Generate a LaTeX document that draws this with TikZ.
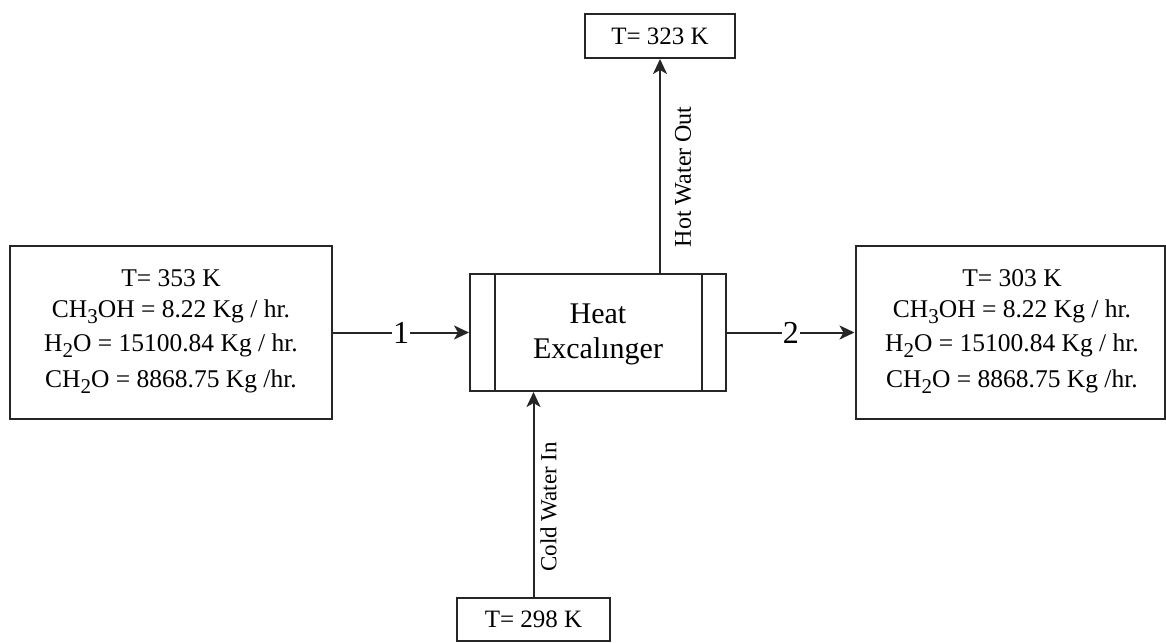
\documentclass[tikz,border=0pt]{standalone}
\usepackage{fontspec}
\setmainfont{Liberation Serif}
\usetikzlibrary{arrows.meta,calc}
\newcommand{\lowsub}[1]{\raisebox{-0.22em}{\fontsize{21}{21}\selectfont #1}}
\tikzset{
  box/.style={draw=black!85, line width=2pt, rectangle, inner sep=0pt},
  boxtext/.style={align=center, font=\fontsize{25.5}{31}\selectfont, inner sep=0pt},
  flow/.style={draw=black!85, line width=2pt, -{Stealth[length=15pt,width=14pt,inset=4pt]}},
  numlabel/.style={fill=white, font=\fontsize{32}{32}\selectfont, inner sep=1pt},
  sidelabel/.style={rotate=90, anchor=north}
}
\begin{document}
\begin{tikzpicture}[x=1pt,y=-1pt]
\useasboundingbox (0,0) rectangle (1166,642);
% boxes
\node[box, minimum width=322pt, minimum height=173pt] (left) at (171,332.5) {};
\node[boxtext] (lefttext) at (171,331.5) {T= 353 K\\CH\lowsub{3}OH = 8.22 Kg / hr.\\[3pt]H\lowsub{2}O = 15100.84 Kg / hr.\\[5pt]CH\lowsub{2}O = 8868.75 Kg /hr.};
\node[box, minimum width=256pt, minimum height=117pt] (hx) at (598,332.5) {};
\node[align=center, font=\fontsize{30}{35}\selectfont, inner sep=0pt] (hxtext) at (598,334) {Heat\\Excalınger};
\node[box, minimum width=309pt, minimum height=173pt] (right) at (1010,332.5) {};
\node[boxtext] (righttext) at (1012,331.5) {T= 303 K\\CH\lowsub{3}OH = 8.22 Kg / hr.\\[3pt]H\lowsub{2}O = 15100.84 Kg / hr.\\[5pt]CH\lowsub{2}O = 8868.75 Kg /hr.};
\node[box, minimum width=150pt, minimum height=44pt, font=\fontsize{25}{25}\selectfont] (top) at (660,36) {T= 323 K};
\node[box, minimum width=153pt, minimum height=43pt, font=\fontsize{25}{25}\selectfont] (bottom) at (533.5,619.5) {T= 298 K};
% inner lines of heat exchanger
\draw[draw=black!85, line width=2pt] ($(hx.north west)+(26,0)$) -- ($(hx.south west)+(26,0)$);
\draw[draw=black!85, line width=2pt] ($(hx.north east)+(-25,0)$) -- ($(hx.south east)+(-25,0)$);
% connectors
\draw[flow] (left.east) -- node[numlabel, pos=0.5] (n1) {1} (hx.west);
\draw[flow] (hx.east) -- node[numlabel, pos=0.5] (n2) {2} (right.east -| right.west);
\draw[flow] (hx.north -| top.south) -- node[sidelabel, pos=0.45, inner sep=14pt, font=\fontsize{24}{24}\selectfont] (hot) {Hot Water Out} (top.south);
\draw[flow] (bottom.north) -- node[sidelabel, pos=0.44, inner sep=6pt, font=\fontsize{23}{23}\selectfont] (cold) {Cold Water In} (bottom.north |- hx.south);
\end{tikzpicture}
\end{document}
